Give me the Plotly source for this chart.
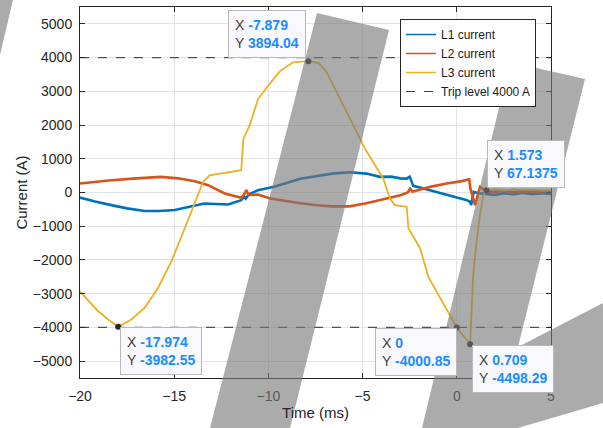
import plotly.graph_objects as go

# ---------------- data ----------------
L1_t = [-20, -19.2, -18.34, -17.5, -16.57, -15.8, -14.97, -14.1, -13.4, -12.8, -12.14, -11.44, -11.3, -11.2,
        -11.05, -10.55, -9.65, -8.3, -7.4, -6.6, -5.7, -4.8, -4.08, -3.5, -3.0, -2.66, -2.5, -2.4, -2.31,
        -1.42, -0.54, 0.0, 0.5, 0.7, 0.76, 0.9, 1.15, 1.5, 2.0, 2.5, 3.0, 3.5, 4.0, 4.5, 5.0]
L1_y = [-150, -270, -374, -470, -550, -550, -520, -420, -325, -340, -354, -226, -120, -180,
        -60, 70, 180, 410, 500, 560, 600, 560, 463, 470, 420, 413, 470, 330, 197,
        70, -80, -150, -220, -275, -374, 20, -20, -40, -70, -20, -60, -10, -50, -20, -40]

L2_t = [-20, -19.2, -18.34, -17.0, -15.7, -14.8, -13.91, -13.2, -12.32, -11.44, -11.3, -11.17, -11.05,
        -10.55, -9.9, -8.3, -7.4, -6.6, -5.7, -4.8, -4.08, -3.0, -2.6, -2.48, -2.35, -1.42, -0.54, 0.2,
        0.66, 0.72, 0.97, 1.23, 1.6, 2.0, 2.5, 3.0, 3.5, 4.0, 4.5, 5.0]
L2_y = [265, 320, 363, 420, 463, 420, 333, 216, -30, -157, -60, 70, -80,
        -60, -180, -320, -380, -410, -410, -320, -226, -80, 0, 118, 20, 167, 265, 330,
        393, 120, -374, 167, 30, 20, 50, 10, 40, 20, 40, 20]

L3_t = [-20, -19.5, -19.04, -18.34, -17.974, -17.28, -16.57, -15.86, -15.15, -14.44, -13.91, -13.47, -13.12,
        -12.3, -11.5, -11.44, -11.33, -11.0, -10.55, -10.07, -9.38, -8.69, -7.879, -7.3, -6.9, -6.2, -5.3,
        -4.87, -4.45, -3.9, -3.55, -3.28, -2.66, -2.57, -2.31, -1.95, -1.51, -0.89, -0.36, 0.0, 0.709,
        0.79, 0.87, 1.05, 1.23, 1.41, 1.573, 2.0, 2.5, 3.0, 3.5, 4.0, 4.5, 5.0]
L3_y = [-2930, -3250, -3520, -3835, -3982.55, -3765, -3420, -2830, -2045, -1060, -275, 315, 510,
        580, 650, 660, 1590, 1980, 2770, 3130, 3600, 3860, 3894.04, 3830, 3560, 2770, 1800,
        1300, 910, 410, -177, -374, -423, -1062, -1307, -1652, -2500, -3127, -3619, -4000.85, -4498.29,
        -3620, -2440, -1455, -670, -80, 67.1375, 90, 60, 90, 70, 85, 60, 70]

trip_level = 4000
x_range = [-20, 5]
y_range = [-5500, 5500]
x_ticks = [-20, -15, -10, -5, 0, 5]
y_ticks = [-5000, -4000, -3000, -2000, -1000, 0, 1000, 2000, 3000, 4000, 5000]

series_names = ["L1 current", "L2 current", "L3 current", "Trip level 4000 A"]

tip_x = [-7.879, -17.974, 0, 0.709, 1.573]
tip_y = [3894.04, -3982.55, -4000.85, -4498.29, 67.1375]

# ---------------- style ----------------
FONT = "Liberation Sans, Arial, Helvetica, sans-serif"
AX = "#262626"
VAL = "#1a8cff"
colors = ["#0072BD", "#D95319", "#EDB120"]
widths = [2.6, 2.6, 1.8]
# (xanchor, yanchor, xshift, yshift) for each data tip box
tip_anchor = [("right", "bottom", -2, 3), ("left", "top", 2, 0), ("right", "top", 0, -1),
              ("left", "top", 2, -1), ("left", "bottom", 1, 2)]

W, H = 603, 428
ML, MR, MT, MB = 80, 52, 7, 50
PW, PH = W - ML - MR, H - MT - MB

# overlay stripes (pixel polygons)
stripes = [
    [(0, 0), (13, 0), (0, 55)],
    [(317, 13), (389, 30), (290, 428), (210, 428)],
    [(510, 62), (585, 79), (518, 347), (603, 303), (603, 403), (518, 428), (422, 428)],
]

fig = go.Figure()
for t, y, name, c, w in zip([L1_t, L2_t, L3_t], [L1_y, L2_y, L3_y], series_names[:3], colors, widths):
    fig.add_trace(go.Scatter(x=t, y=y, mode="lines", name=name, showlegend=False,
                             line=dict(color=c, width=w), hoverinfo="skip"))

fig.add_trace(go.Scatter(x=[x_range[0], x_range[1], None, x_range[0], x_range[1]],
                         y=[trip_level, trip_level, None, -trip_level, -trip_level],
                         mode="lines", name=series_names[3], showlegend=False,
                         line=dict(color="#505050", width=1.3, dash="dash"), hoverinfo="skip"))

# legend entries (thin line samples, as in the original)
for name, c in zip(series_names[:3], colors):
    fig.add_trace(go.Scatter(x=[None], y=[None], mode="lines", name=name,
                             line=dict(color=c, width=1.5)))
fig.add_trace(go.Scatter(x=[None], y=[None], mode="lines", name=series_names[3],
                         line=dict(color="#404040", width=1.2, dash="dash")))

fig.add_trace(go.Scatter(x=tip_x, y=tip_y, mode="markers", showlegend=False,
                         marker=dict(color=AX, size=6), hoverinfo="skip"))

for tx, ty, (xa, ya, xs, ys) in zip(tip_x, tip_y, tip_anchor):
    txt = (f"X <span style='color:{VAL}'><b>{tx:g}</b></span><br>"
           f"Y <span style='color:{VAL}'><b>{ty:g}</b></span>")
    fig.add_annotation(x=tx, y=ty, xref="x", yref="y", text=txt, showarrow=False,
                       xanchor=xa, yanchor=ya, xshift=xs, yshift=ys, align="left",
                       font=dict(family=FONT, size=14, color="#404040"),
                       bgcolor="#f9f9fd", bordercolor="#b8b8b8", borderwidth=1, borderpad=6)

shapes = []
for poly in stripes:
    pts = [((px - ML) / PW, (H - MB - py) / PH) for px, py in poly]
    path = "M " + " L ".join(f"{a:.4f},{b:.4f}" for a, b in pts) + " Z"
    shapes.append(dict(type="path", path=path, xref="paper", yref="paper",
                       fillcolor="rgba(120,120,120,0.62)", line=dict(width=0), layer="above"))

axis_common = dict(showline=True, linecolor=AX, linewidth=1, mirror="ticks", ticks="inside",
                   ticklen=5, tickcolor=AX, showgrid=True, gridcolor="#e3e3e3", gridwidth=1,
                   zeroline=False, tickfont=dict(family=FONT, size=14, color=AX))

fig.update_layout(
    width=W, height=H, margin=dict(l=ML, r=MR, t=MT, b=MB),
    paper_bgcolor="white", plot_bgcolor="white",
    font=dict(family=FONT, color=AX),
    xaxis=dict(range=x_range, tickvals=x_ticks, ticklabelstandoff=5,
               title=dict(text="Time (ms)", font=dict(family=FONT, size=15, color=AX), standoff=4),
               **axis_common),
    yaxis=dict(range=y_range, tickvals=y_ticks, ticklabelstandoff=4,
               title=dict(text="Current (A)", font=dict(family=FONT, size=15, color=AX), standoff=1),
               **axis_common),
    legend=dict(x=(400 - ML) / PW, y=1 - (19 - MT) / PH, xanchor="left", yanchor="top",
                bgcolor="white", bordercolor=AX, borderwidth=1,
                font=dict(family=FONT, size=12, color="#1a1a1a"), tracegroupgap=0),
    shapes=shapes,
    showlegend=True,
)

fig.write_html("out.html")
